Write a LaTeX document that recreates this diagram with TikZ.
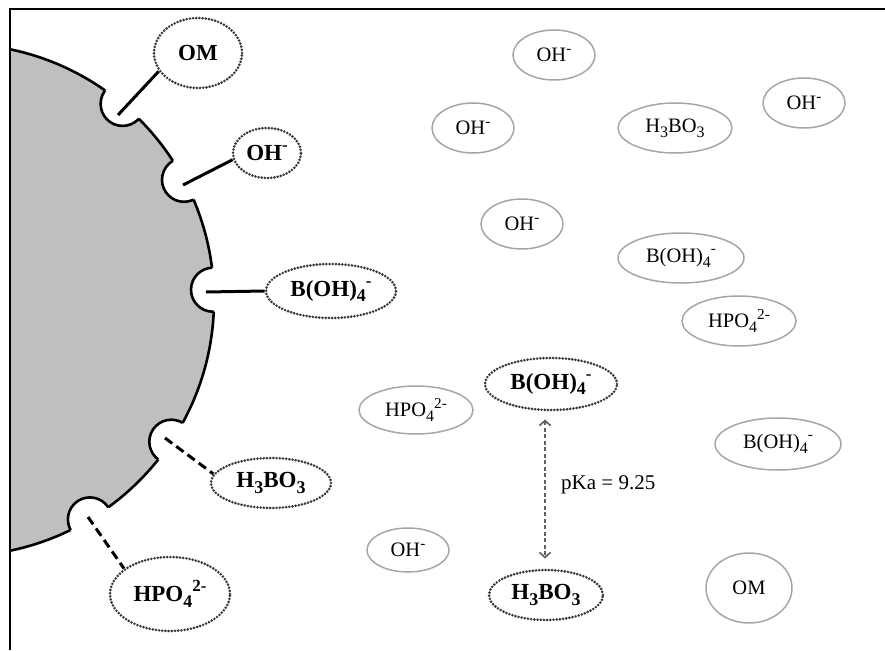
\documentclass[tikz,border=0pt]{standalone}
\usepackage{fontspec}
\setmainfont{Liberation Serif}
\usetikzlibrary{shapes.geometric,arrows.meta}
\makeatletter
\newcommand\chsub[1]{\raisebox{-0.25em}{\fontsize{\the\dimexpr 0.78\dimexpr\f@size pt\relax\relax}{0pt}\selectfont #1}}
\newcommand\chsup[1]{\raisebox{0.42em}{\fontsize{\the\dimexpr 0.74\dimexpr\f@size pt\relax\relax}{0pt}\selectfont #1}}
\makeatother
\begin{document}
\begin{tikzpicture}[x=1pt,y=-1pt,
  ion/.style={ellipse,draw=black!35,line width=1.5pt,inner sep=0pt,
    font=\fontsize{20.5}{24}\selectfont},
  sion/.style={ellipse,draw=black!78,line width=2.9pt,line cap=round,
    dash pattern=on 0pt off 3.2pt,inner sep=0pt,
    font=\fontsize{23}{27}\selectfont\bfseries},
  bond/.style={line width=3pt,line cap=butt},
  hbond/.style={bond,dash pattern=on 9pt off 5pt},
  rim/.style={line width=2.6pt},
  eq/.style={draw=black!62,line width=1.7pt,dash pattern=on 4pt off 2.5pt,
    {Straight Barb[length=5pt,width=11pt]}-{Straight Barb[length=5pt,width=11pt]}}
]
\useasboundingbox (0,0) rectangle (885,650);

% notch centres and bond starts
\coordinate (n1) at (122.6,103.9);
\coordinate (n2) at (184.0,179.8);
\coordinate (n3) at (213.0,289.7);
\coordinate (n4) at (171.3,441.7);
\coordinate (n5) at (89.9,519.4);
\coordinate (b1) at (118,115);
\coordinate (b2) at (183,185);
\coordinate (b3) at (206,292);
\coordinate (b4) at (165,438);
\coordinate (b5) at (88,517);

% the particle with its sites
\begin{scope}
  \clip (10,9) rectangle (885,650);
  \fill[black!25] (-42,300) circle[radius=256pt];
  \draw[rim] (-42,300) circle[radius=256pt];
  \foreach \n in {n1,n2,n3,n4,n5} \fill[white] (\n) circle[radius=22pt];
  \clip (-42,300) circle[radius=256pt];
  \foreach \n in {n1,n2,n3,n4,n5} \draw[rim] (\n) circle[radius=22pt];
\end{scope}

% frame
\draw[line width=2.5pt] (10,650) -- (10,9) -- (885,9);

% adsorbed species
\node[sion,minimum width=88pt,minimum height=70pt] (om) at (198,53) {OM};
\node[sion,minimum width=68pt,minimum height=50pt] (oh) at (267,153) {OH\chsup{-}};
\node[sion,minimum width=130pt,minimum height=54pt] (boh) at (331,291) {B(OH)\chsub{4}\chsup{-}};
\node[sion,minimum width=120pt,minimum height=50pt] (hbo) at (271,483) {H\chsub{3}BO\chsub{3}};
\node[sion,minimum width=120pt,minimum height=74pt] (hpo) at (170,594) {HPO\chsub{4}\chsup{2-}};

\draw[bond] (b1) -- (om.205);
\draw[bond] (b2) -- (oh.191);
\draw[bond] (b3) -- (boh.180);
\draw[hbond] (b4) -- (hbo.171);
\draw[hbond] (b5) -- (hpo.151);

% solution species
\node[ion,minimum width=82pt,minimum height=50pt] (s1) at (554,55) {OH\chsup{-}};
\node[ion,minimum width=82pt,minimum height=50pt] (s2) at (473,128) {OH\chsup{-}};
\node[ion,minimum width=114pt,minimum height=50pt] (s3) at (675,128) {H\chsub{3}BO\chsub{3}};
\node[ion,minimum width=82pt,minimum height=50pt] (s4) at (804,103) {OH\chsup{-}};
\node[ion,minimum width=82pt,minimum height=50pt] (s5) at (522,224) {OH\chsup{-}};
\node[ion,minimum width=126pt,minimum height=50pt] (s6) at (681,258) {B(OH)\chsub{4}\chsup{-}};
\node[ion,minimum width=114pt,minimum height=50pt] (s7) at (739,321) {HPO\chsub{4}\chsup{2-}};
\node[ion,minimum width=114pt,minimum height=48pt] (s8) at (416,410) {HPO\chsub{4}\chsup{2-}};
\node[ion,minimum width=126pt,minimum height=52pt] (s9) at (778,444) {B(OH)\chsub{4}\chsup{-}};
\node[ion,minimum width=82pt,minimum height=44pt] (s10) at (408,550) {OH\chsup{-}};
\node[ion,minimum width=86pt,minimum height=70pt] (s11) at (749,588) {OM};

% equilibrium
\node[sion,minimum width=132pt,minimum height=52pt] (bm) at (551,384) {B(OH)\chsub{4}\chsup{-}};
\node[sion,minimum width=114pt,minimum height=50pt] (hb) at (546,595) {H\chsub{3}BO\chsub{3}};
\draw[eq] ([xshift=-6pt,yshift=-8pt]bm.south) -- ([xshift=-1pt,yshift=10pt]hb.north);
\node[anchor=west,inner sep=0pt,font=\fontsize{21}{25}\selectfont] (pka) at (561,485) {pKa = 9.25};
\end{tikzpicture}
\end{document}
